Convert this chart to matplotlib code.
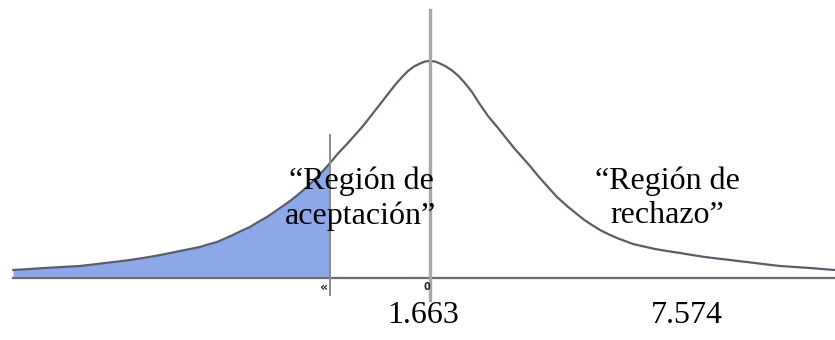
import matplotlib.pyplot as plt

# curve: offset from the centre line and height above the axis
curve_x = [-417, -400, -385, -368, -350, -337, -325, -312, -300, -287, -275, -262,
           -250, -240, -230, -222, -213, -205, -197, -189, -180, -172, -163, -155,
           -147, -138, -130, -122, -115, -107, -100, -92, -83, -75, -67, -58,
           -49, -42, -35, -28, -22, -16, -10, -5, 0,
           5, 10, 16, 22, 28, 34, 42, 49, 58, 68, 76, 84, 92, 100, 109, 118,
           127, 137, 145, 153, 162, 170, 178, 187, 195, 203, 214, 225, 237,
           250, 262, 275, 287, 300, 312, 325, 337, 350, 365, 380, 392, 405]
curve_y = [8, 9, 10, 11, 12, 13.5, 15, 16.5, 18, 20, 22, 24.5,
           27, 29, 31, 33.5, 36, 39.5, 43, 47, 51, 56, 61, 66.5,
           72, 78.5, 85, 92, 99, 107, 115, 124.5, 134, 143, 152, 163.5,
           175, 184, 193, 201, 207, 211.5, 214.5, 216.5, 217,
           216.5, 214.5, 211.5, 207.5, 202.5, 196, 186, 175, 162, 150, 140, 130, 121, 112, 101, 91,
           81, 72, 65.5, 59, 53, 48, 44, 40, 37, 34, 31.5, 29, 27,
           25, 23, 21, 19.5, 18, 16.5, 15, 13.5, 12, 11, 10, 9, 8]

cut_x = -100          # end of the shaded tail
tick_labels = ['«', '0']
tick_pos = [-100, 0]
region_labels = ['\u201cRegi\u00f3n de\naceptaci\u00f3n\u201d', '\u201cRegi\u00f3n de\nrechazo\u201d']
region_pos = [-69, 237]
value_labels = ['1.663', '7.574']
value_pos = [-7, 257]

fig = plt.figure(figsize=(8.35, 3.4), dpi=100)
ax = fig.add_axes([0, 0, 1, 1])
ax.set_xlim(-430, 405)
ax.set_ylim(-62, 278)
ax.axis('off')

# shaded left tail
tail = [i for i, x in enumerate(curve_x) if x <= cut_x]
ax.fill_between([curve_x[i] for i in tail], 0, [curve_y[i] for i in tail],
                color='#8ca8e9', lw=0)

ax.plot(curve_x, curve_y, color='#5a5e6a', lw=1.6, solid_joinstyle='round',
        solid_capstyle='round', antialiased=True)
ax.plot([-417, 405], [0, 0], color='#6a6d78', lw=1.6)

# centre line and cut line
ax.plot([0, 0], [-22, 268], color='#a8a8ac', lw=2.4)
ax.plot([cut_x, cut_x], [-17, 143], color='#8a8c94', lw=1.4)

ax.text(tick_pos[0] - 2, -9, tick_labels[0], ha='right', va='center',
        fontsize=9, fontweight='bold', color='#222222')
ax.text(tick_pos[1] - 3, -9, tick_labels[1], ha='center', va='center',
        fontsize=7, fontweight='bold', color='#222222')

for lab, x in zip(region_labels, region_pos):
    ax.text(x, 112, lab, ha='center', va='top', fontsize=23,
            family='Liberation Serif', linespacing=1.25, color='black')

for lab, x in zip(value_labels, value_pos):
    ax.text(x, -45, lab, ha='center', va='baseline', fontsize=23,
            family='Liberation Serif', color='black')

fig.savefig('out.png', dpi=100)
